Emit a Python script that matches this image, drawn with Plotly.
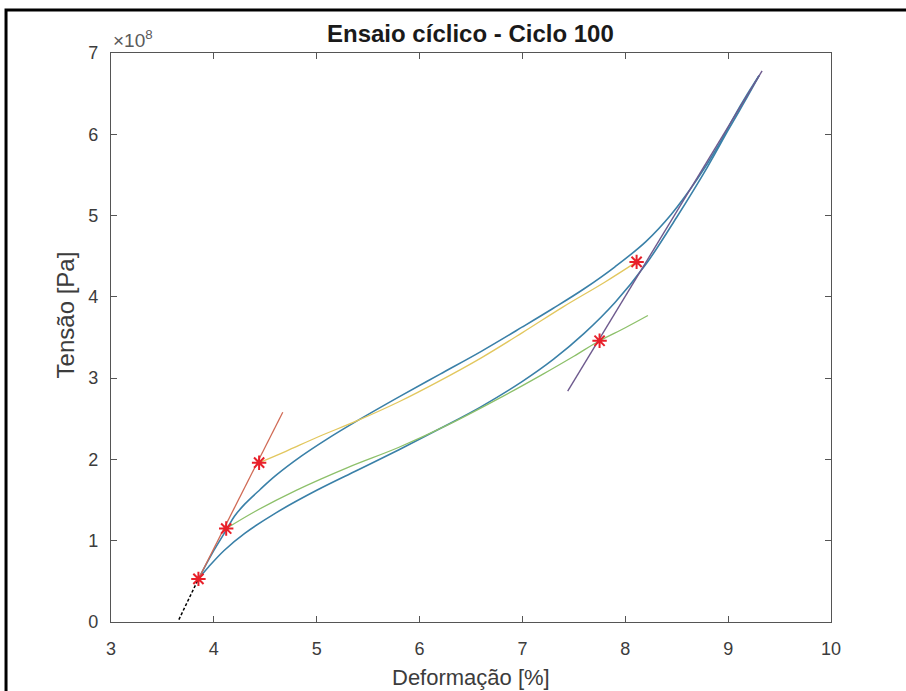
import plotly.graph_objects as go

# Hysteresis loop, cycle 100: strain [%] vs stress [x1e8 Pa]
carga_def = [3.85, 3.95, 4.10, 4.30, 4.60, 5.00, 5.40, 5.80, 6.20, 6.60, 7.00,
             7.30, 7.60, 7.90, 8.20, 8.50, 8.80, 9.00, 9.15, 9.30]
carga_ten = [0.53, 0.68, 0.88, 1.09, 1.34, 1.62, 1.87, 2.12, 2.38, 2.65, 2.96,
             3.23, 3.55, 3.93, 4.40, 4.98, 5.60, 6.05, 6.38, 6.72]

descarga_def = [3.85, 4.00, 4.12, 4.20, 4.30, 4.45, 4.60, 4.85, 5.10, 5.40, 5.80,
                6.20, 6.60, 7.00, 7.30, 7.60, 7.90, 8.20, 8.45, 8.70, 8.90, 9.05,
                9.18, 9.30]
descarga_ten = [0.53, 0.88, 1.13, 1.30, 1.45, 1.63, 1.80, 2.04, 2.25, 2.48, 2.77,
                3.05, 3.33, 3.63, 3.86, 4.10, 4.37, 4.68, 5.02, 5.45, 5.85, 6.20,
                6.48, 6.72]

# fitted curves on each branch
ajuste_carga_def = [4.12, 4.40, 4.80, 5.30, 5.80, 6.30, 6.80, 7.20, 7.50, 7.75, 8.00, 8.22]
ajuste_carga_ten = [1.15, 1.36, 1.62, 1.90, 2.15, 2.44, 2.77, 3.05, 3.27, 3.46, 3.62, 3.77]

ajuste_desc_def = [4.44, 4.70, 5.00, 5.40, 5.80, 6.20, 6.60, 7.00, 7.40, 7.80, 8.11]
ajuste_desc_ten = [1.96, 2.10, 2.27, 2.48, 2.71, 2.97, 3.25, 3.56, 3.88, 4.18, 4.43]

# straight tangent lines
tang_inicial_def = [3.85, 4.67]
tang_inicial_ten = [0.53, 2.58]
tang_final_def = [7.44, 9.33]
tang_final_ten = [2.84, 6.78]
extrap_def = [3.66, 3.85]
extrap_ten = [0.03, 0.53]

# marked transition points
pontos_def = [3.85, 4.12, 4.44, 7.75, 8.11]
pontos_ten = [0.53, 1.15, 1.96, 3.46, 4.43]

x_ticks = [3, 4, 5, 6, 7, 8, 9, 10]
y_ticks = [0, 1, 2, 3, 4, 5, 6, 7]

FONTE = "Liberation Sans, Arial, sans-serif"
CINZA = "#3c3c3c"

fig = go.Figure()

def linha(x, y, cor, largura=1.4, dash="solid", shape="spline"):
    fig.add_trace(go.Scatter(x=x, y=y, mode="lines",
                             line=dict(color=cor, width=largura, dash=dash, shape=shape),
                             showlegend=False, hoverinfo="skip"))

linha(carga_def, carga_ten, "#3a80a8", 1.6)
linha(descarga_def, descarga_ten, "#3a80a8", 1.6)
linha(ajuste_carga_def, ajuste_carga_ten, "#8dc06a", 1.3)
linha(ajuste_desc_def, ajuste_desc_ten, "#e2c75e", 1.3)
linha(tang_inicial_def, tang_inicial_ten, "#d06a55", 1.3, shape="linear")
linha(tang_final_def, tang_final_ten, "#6e5a8e", 1.4, shape="linear")
linha(extrap_def, extrap_ten, "#000000", 1.5, dash="3px,2px", shape="linear")

fig.add_trace(go.Scatter(x=pontos_def, y=pontos_ten, mode="markers",
                         marker=dict(symbol="asterisk-open", size=12, color="#e8202a",
                                     line=dict(color="#e8202a", width=2)),
                         showlegend=False, hoverinfo="skip"))

eixo = dict(showline=True, linecolor="#555555", linewidth=1.3, mirror="ticks",
            ticks="inside", ticklen=6, tickcolor="#555555", tickwidth=1.2,
            showgrid=False, zeroline=False,
            tickfont=dict(family=FONTE, size=18, color=CINZA))

fig.update_xaxes(range=[3, 10], tickvals=x_ticks, ticktext=[str(v) for v in x_ticks],
                 ticklabelstandoff=10, **eixo)
fig.update_yaxes(range=[0, 7], tickvals=y_ticks, ticktext=[str(v) for v in y_ticks],
                 ticklabelstandoff=8, **eixo)

fig.update_layout(
    width=906, height=691,
    margin=dict(l=111, r=75, t=53, b=69),
    paper_bgcolor="white", plot_bgcolor="white",
    annotations=[
        dict(text="<b>Ensaio cíclico - Ciclo 100</b>", xref="paper", yref="paper",
             x=0.499, y=1.035, xanchor="center", yanchor="middle", showarrow=False,
             font=dict(family=FONTE, size=24, color="#1a1a1a")),
        dict(text="Deformação [%]", xref="paper", yref="paper",
             x=0.5, y=-0.097, xanchor="center", yanchor="middle", showarrow=False,
             font=dict(family=FONTE, size=22, color=CINZA)),
        dict(text="Tensão [Pa]", xref="paper", yref="paper", textangle=-90,
             x=-0.063, y=0.54, xanchor="center", yanchor="middle", showarrow=False,
             font=dict(family=FONTE, size=24, color=CINZA)),
        dict(text="×10<sup>8</sup>", xref="paper", yref="paper", x=0.0, y=1.0,
             xanchor="left", yanchor="bottom", showarrow=False,
             font=dict(family=FONTE, size=19, color="#5a5a5a")),
    ],
    # figure frame; only its top and left edges fall inside the page
    shapes=[
        dict(type="rect", xref="paper", yref="paper", x0=-0.1458, x1=1.25, y0=-0.25, y1=1.0756,
             line=dict(color="black", width=3), fillcolor="rgba(0,0,0,0)", layer="below"),
    ],
)

fig.write_html("out.html")
